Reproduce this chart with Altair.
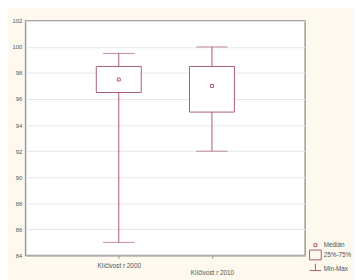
import altair as alt
import pandas as pd

categories = ["Klíčivost r 2000", "Klíčivost r 2010"]
mins = [85.0, 92.0]
q1s = [96.5, 95.0]
medians = [97.5, 97.0]
q3s = [98.5, 98.5]
maxs = [99.5, 100.0]
y_ticks = [84, 86, 88, 90, 92, 94, 96, 98, 100, 102]
legend_labels = ["Medián", "25%-75%", "Min-Max"]

df = pd.DataFrame({
    "cat": categories, "min": mins, "q1": q1s, "med": medians,
    "q3": q3s, "max": maxs, "stat": legend_labels[0],
})

BOX = "#a85a6c"
FONT = "Liberation Sans"

x = alt.X("cat:N", scale=alt.Scale(type="point", domain=categories, padding=2),
          axis=alt.Axis(title=None, labelAngle=0, labelFontSize=6.5, labelColor="#555",
                        labelFont=FONT, tickSize=3, tickColor="#999", domainColor="#999",
                        labelPadding=4, labelLineHeight=8, labelOverlap=False,
                        labelExpr="datum.index > 0.5 ? ['', datum.label] : datum.label"))
yscale = alt.Scale(domain=[84, 102], nice=False, zero=False)
yaxis = alt.Axis(title=None, values=y_ticks, ticks=False, labelFontSize=6, labelColor="#555",
                 labelFont=FONT, labelPadding=4, grid=True, gridColor="#e4e7eb",
                 domain=False, labelOverlap=False, labelFlush=False)


def Y(field):
    return alt.Y(field, type="quantitative", scale=yscale, axis=yaxis)


base = alt.Chart(df)

lower = base.mark_rule(color=BOX, strokeWidth=1).encode(x=x, y=Y("min"), y2="q1:Q")
upper = base.mark_rule(color=BOX, strokeWidth=1).encode(x=x, y=Y("q3"), y2="max:Q")
box = base.mark_bar(size=46, fill="white", stroke=BOX, strokeWidth=1).encode(
    x=x, y=Y("q1"), y2="q3:Q")
cap_lo = base.mark_tick(orient="horizontal", size=32, thickness=1, color=BOX).encode(
    x=x, y=Y("min"))
cap_hi = base.mark_tick(orient="horizontal", size=32, thickness=1, color=BOX).encode(
    x=x, y=Y("max"))

shapes = [
    "M-0.3,-0.3H0.3V0.3H-0.3Z",
    "M-1.2,-1H1.2V1H-1.2Z",
    "M0,-1V0.4M-1.2,0.4H1.2",
]
med = base.mark_point(filled=False, size=100, color=BOX, strokeWidth=1, opacity=1).encode(
    x=x, y=Y("med"),
    shape=alt.Shape("stat:N", scale=alt.Scale(domain=legend_labels, range=shapes),
                    legend=alt.Legend(title=None, orient="none", legendX=291, legendY=224,
                                      padding=0, rowPadding=-1, symbolSize=100,
                                      symbolStrokeColor=BOX, symbolStrokeWidth=1,
                                      symbolFillColor="white", symbolOpacity=1,
                                      labelFontSize=6.5, labelColor="#555", labelFont=FONT,
                                      labelOffset=3)))

chart = alt.layer(lower, upper, box, cap_lo, cap_hi, med).properties(
    width=286, height=240,
    padding={"left": 18, "top": 10, "right": 50, "bottom": 22},
    autosize=alt.AutoSizeParams(type="none"),
    background="#fdf9ee",
).configure_view(fill="white", stroke="#999", strokeWidth=1.5)

chart.save("out.html", embed_options={"renderer": "svg", "actions": False})
